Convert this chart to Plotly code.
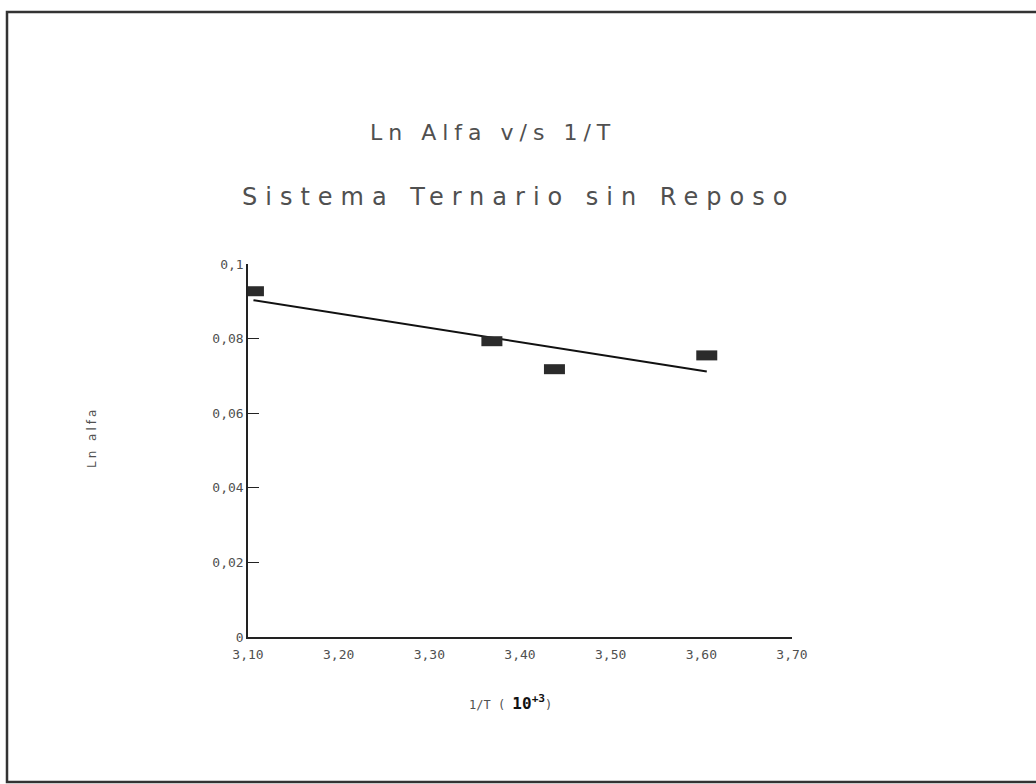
import numpy as np
import plotly.graph_objects as go

# Ln(alfa) against 1/T (x 10^3)
inv_t = [3.106, 3.369, 3.438, 3.606]
ln_alfa = [0.0927, 0.0793, 0.0718, 0.0755]

x_ticks = [3.10, 3.20, 3.30, 3.40, 3.50, 3.60, 3.70]
x_tick_text = ["3,10", "3,20", "3,30", "3,40", "3,50", "3,60", "3,70"]
y_ticks = [0, 0.02, 0.04, 0.06, 0.08, 0.1]
y_tick_text = ["0", "0,02", "0,04", "0,06", "0,08", "0,1"]

# least-squares straight line through the measured points
slope, intercept = np.polyfit(inv_t, ln_alfa, 1)
fit_x = np.array([min(inv_t), max(inv_t)])
fit_y = slope * fit_x + intercept

W, H = 1036, 784
L, R, T, B = 248, 244, 264, 147
pw, ph = W - L - R, H - T - B

def px(xp):
    return (xp - L) / pw

def py(yp):
    return (H - B - yp) / ph

FONT = "DejaVu Sans"
MONO = "DejaVu Sans Mono"
GREY = "#505050"

fig = go.Figure()
fig.add_trace(go.Scatter(
    x=fit_x, y=fit_y, mode="lines",
    line=dict(color="#111111", width=2),
    hoverinfo="skip", showlegend=False,
))
fig.add_trace(go.Scatter(
    x=inv_t, y=ln_alfa, mode="markers",
    marker=dict(symbol="line-ew", size=15, color="#2b2b2b",
                line=dict(color="#2b2b2b", width=10)),
    showlegend=False,
))

fig.update_xaxes(
    range=[3.10, 3.70], tickvals=x_ticks, ticktext=x_tick_text,
    showgrid=False, zeroline=False, showline=True,
    linecolor="#222222", linewidth=2, ticks="outside", ticklen=4,
    tickcolor="rgba(0,0,0,0)",
    tickfont=dict(family=MONO, size=13, color=GREY),
)
fig.update_yaxes(
    range=[0, 0.1], tickvals=y_ticks, ticktext=y_tick_text,
    showgrid=False, zeroline=False, showline=True,
    linecolor="#222222", linewidth=1.5,
    ticks="inside", ticklen=11, tickwidth=1.2, tickcolor="#222222",
    tickfont=dict(family=MONO, size=13, color=GREY),
)

annotations = [
    dict(text='<span style="letter-spacing:6px">Ln Alfa v/s 1/T</span>',
         x=px(493), y=py(132), font=dict(family=FONT, size=22, color=GREY)),
    dict(text='<span style="letter-spacing:8px">Sistema Ternario sin Reposo</span>',
         x=px(518), y=py(197), font=dict(family=FONT, size=24, color=GREY)),
    dict(text='<span style="letter-spacing:3px">Ln alfa</span>',
         x=px(92), y=py(438), textangle=-90,
         font=dict(family=FONT, size=12, color=GREY)),
    dict(text='1/T ( <b><span style="color:#111;font-size:16px">10<sup>+3</sup></span></b>)',
         x=px(510), y=py(702), font=dict(family=MONO, size=12, color=GREY)),
]
for a in annotations:
    a.update(xref="paper", yref="paper", showarrow=False,
             xanchor="center", yanchor="middle")

fig.update_layout(
    width=W, height=H,
    margin=dict(l=L, r=R, t=T, b=B),
    paper_bgcolor="white", plot_bgcolor="white",
    annotations=annotations,
    shapes=[dict(type="rect", xref="paper", yref="paper",
                 x0=px(7), x1=px(1045), y0=py(782), y1=py(12),
                 line=dict(color="#333333", width=2.5))],
)

fig.write_html("out.html")
